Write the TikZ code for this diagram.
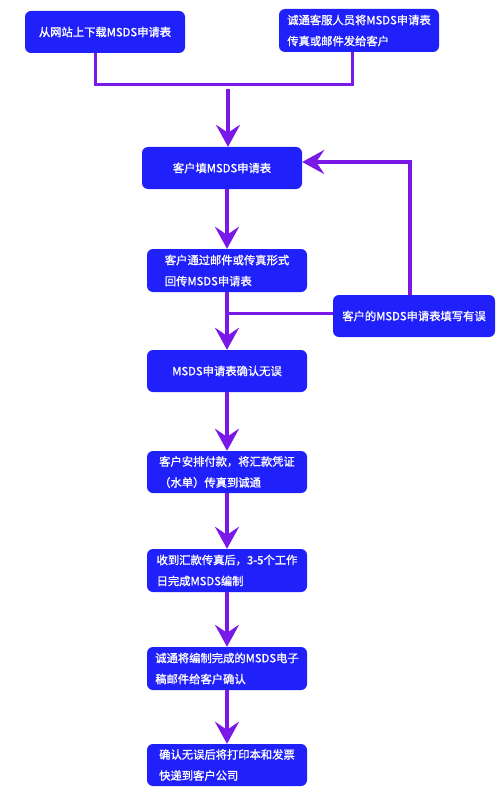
\documentclass[tikz,border=0pt]{standalone}
\usepackage{fontspec}
\setmainfont{Noto Sans CJK SC}[FakeBold=1.2]
\usepackage{tikz}
\usetikzlibrary{arrows.meta}

\definecolor{boxblue}{RGB}{32,32,250}
\definecolor{flowpurple}{RGB}{122,24,232}

\begin{document}
\begin{tikzpicture}[x=1pt,y=-1pt,
   stepnode/.style={rectangle,rounded corners=6pt,fill=boxblue,text=white,minimum width=160pt,minimum height=42pt,inner sep=0pt,align=left,font=\fontsize{11.3}{21}\selectfont},
   joinline/.style={flowpurple,line width=3pt},
   flowarrow/.style={flowpurple,line width=4pt,-{Stealth[length=22pt,width=24pt,inset=8pt]}}]

   \useasboundingbox[fill=white] (0,0) rectangle (503,805);

   \node[stepnode] (download) at (105,32) {从网站上下载MSDS申请表};
   \node[stepnode,minimum height=43pt] (service) at (359,30.5) {诚通客服人员将MSDS申请表\\传真或邮件发给客户};
   \node[stepnode] (fill) at (222,168) {客户填MSDS申请表};
   \node[stepnode,minimum height=43pt] (form) at (227,270.5) {客户通过邮件或传真形式\\回传MSDS申请表};
   \node[stepnode,minimum width=162pt] (error) at (414,316) {客户的MSDS申请表填写有误};
   \node[stepnode] (confirm) at (227,371) {MSDS申请表确认无误};
   \node[stepnode] (payment) at (227,472) {客户安排付款，将汇款凭证\\（水单）传真到诚通};
   \node[stepnode,minimum height=43pt] (compile) at (227,570.5) {收到汇款传真后，3-5个工作\\日完成MSDS编制};
   \node[stepnode,minimum height=43pt] (mail) at (227,668.5) {诚通将编制完成的MSDS电子\\稿邮件给客户确认};
   \node[stepnode] (deliver) at (227,765) {确认无误后将打印本和发票\\快递到客户公司};

   \coordinate (join) at (228,85);
   \draw[joinline] ([xshift=-10pt]download.south) |- (join) -| ([xshift=-7pt]service.south);
   \draw[flowarrow] ([yshift=-4pt]join) -- (join |- fill.north);

   \draw[flowarrow] (fill.south -| form.north) -- (form.north);
   \draw[flowarrow] (form.south) -- (confirm.north);
   \draw[joinline] ([yshift=3pt]error.west) -- ([yshift=3pt]error.west -| form.south);
   \draw[flowarrow] ([xshift=-4pt]error.north) |- ([yshift=6pt]fill.east);

   \draw[flowarrow] (confirm.south) -- (payment.north);
   \draw[flowarrow] (payment.south) -- (compile.north);
   \draw[flowarrow] (compile.south) -- (mail.north);
   \draw[flowarrow] (mail.south) -- (deliver.north);

\end{tikzpicture}
\end{document}
